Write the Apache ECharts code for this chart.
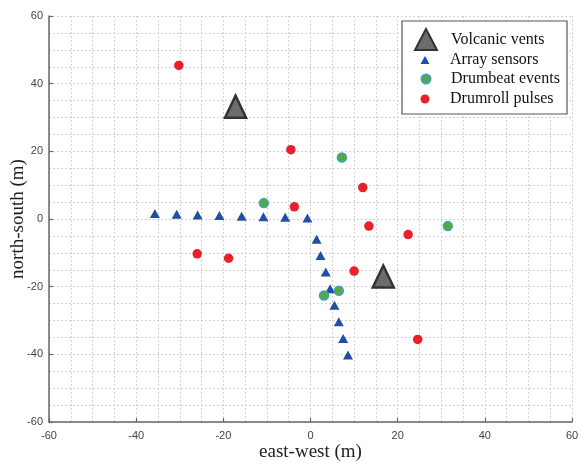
<!DOCTYPE html>
<html>
<head>
<meta charset="utf-8">
<script src="https://cdn.jsdelivr.net/npm/echarts@6/dist/echarts.min.js"></script>
<style>
    html, body { margin: 0; padding: 0; background: #fff; }
    #chart { width: 580px; height: 461px; }
</style>
</head>
<body>
<div id="chart"></div>
<script>
    // positions in metres (east-west, north-south)
    let vents = [[-17.2, 33.2], [16.7, -17.0]];
    let sensors = [
        [-35.7, 1.6], [-30.7, 1.4], [-25.9, 1.2], [-20.9, 1.0],
        [-15.8, 0.8], [-10.8, 0.7], [-5.8, 0.5], [-0.7, 0.3],
        [1.4, -6.0], [2.3, -10.8], [3.5, -15.7], [4.5, -20.6],
        [5.5, -25.5], [6.5, -30.4], [7.5, -35.3], [8.6, -40.2]
    ];
    let drumbeats = [[-10.7, 4.7], [7.2, 18.2], [31.5, -2.1], [3.1, -22.6], [6.5, -21.2]];
    let drumrolls = [
        [-30.2, 45.4], [-4.5, 20.5], [-3.7, 3.6], [12.0, 9.3], [13.4, -2.1],
        [22.4, -4.6], [10.0, -15.4], [-26.0, -10.3], [-18.8, -11.6], [24.6, -35.6]
    ];
    let seriesNames = ['Volcanic vents', 'Array sensors', 'Drumbeat events', 'Drumroll pulses'];

    let myChart = echarts.init(document.getElementById('chart'));

    let gridLine = {show: true, lineStyle: {color: '#d2d2d2', type: [2, 2], width: 1}};
    let tickLabel = {fontFamily: 'Liberation Sans', fontSize: 11, color: '#444'};

    function axis(name, extra) {
        return Object.assign({
            type: 'value',
            min: -60,
            max: 60,
            interval: 20,
            name: name,
            nameLocation: 'middle',
            nameMoveOverlap: false,
            nameTextStyle: {fontFamily: 'Liberation Serif', fontSize: 19, color: '#222'},
            axisLine: {show: true, onZero: false, lineStyle: {color: '#666', width: 1.5}},
            axisTick: {show: true, inside: true, length: 4, lineStyle: {color: '#666', width: 1.2}},
            axisLabel: tickLabel,
            splitLine: gridLine,
            minorTick: {show: false, splitNumber: 4},
            minorSplitLine: gridLine
        }, extra);
    }

    // one legend per row so each icon can have its own size
    function legendRow(name, top, w, h, icon) {
        return {
            data: [{name: name, icon: icon}],
            left: 425 - w / 2,
            top: top,
            padding: 0,
            itemWidth: w,
            itemHeight: h,
            selectedMode: false,
            z: 10,
            textStyle: {
                fontFamily: 'Liberation Serif', fontSize: 16, color: '#111',
                lineHeight: 18, padding: [0, 0, 0, 20 - w / 2]
            }
        };
    }

    let option = {
        animation: false,
        grid: {left: 49, right: 8, top: 16, bottom: 39, outerBoundsMode: 'none', containLabel: false},
        xAxis: axis('east-west (m)', {
            nameGap: 21,
            axisLabel: Object.assign({margin: 8}, tickLabel)
        }),
        yAxis: axis('north-south (m)', {
            nameGap: 21,
            axisLabel: Object.assign({margin: 6}, tickLabel)
        }),
        graphic: [{
            type: 'rect',
            z: 9,
            shape: {x: 402, y: 21, width: 165, height: 93},
            style: {fill: '#fff', stroke: '#555', lineWidth: 1.2}
        }],
        legend: [
            legendRow(seriesNames[0], 28, 22, 21, 'triangle'),
            legendRow(seriesNames[1], 51, 9, 8, 'triangle'),
            legendRow(seriesNames[2], 70, 9, 9, 'circle'),
            legendRow(seriesNames[3], 90, 9, 9, 'circle')
        ],
        series: [
            {
                name: seriesNames[0],
                type: 'scatter',
                symbol: 'triangle',
                symbolSize: [21, 22],
                z: 3,
                itemStyle: {color: '#6b6c6e', borderColor: '#333', borderWidth: 2.5, opacity: 1},
                data: vents
            },
            {
                name: seriesNames[1],
                type: 'scatter',
                symbol: 'triangle',
                symbolSize: [10, 9],
                z: 4,
                itemStyle: {color: '#2050a6', opacity: 1},
                data: sensors
            },
            {
                name: seriesNames[2],
                type: 'scatter',
                symbol: 'circle',
                symbolSize: 9,
                z: 5,
                itemStyle: {color: '#5aa83a', borderColor: '#3aa3c9', borderWidth: 1.5, opacity: 1},
                data: drumbeats
            },
            {
                name: seriesNames[3],
                type: 'scatter',
                symbol: 'circle',
                symbolSize: 9.5,
                z: 5,
                itemStyle: {color: '#e8202a', opacity: 1},
                data: drumrolls
            }
        ]
    };
    myChart.setOption(option);
</script>
</body>
</html>
